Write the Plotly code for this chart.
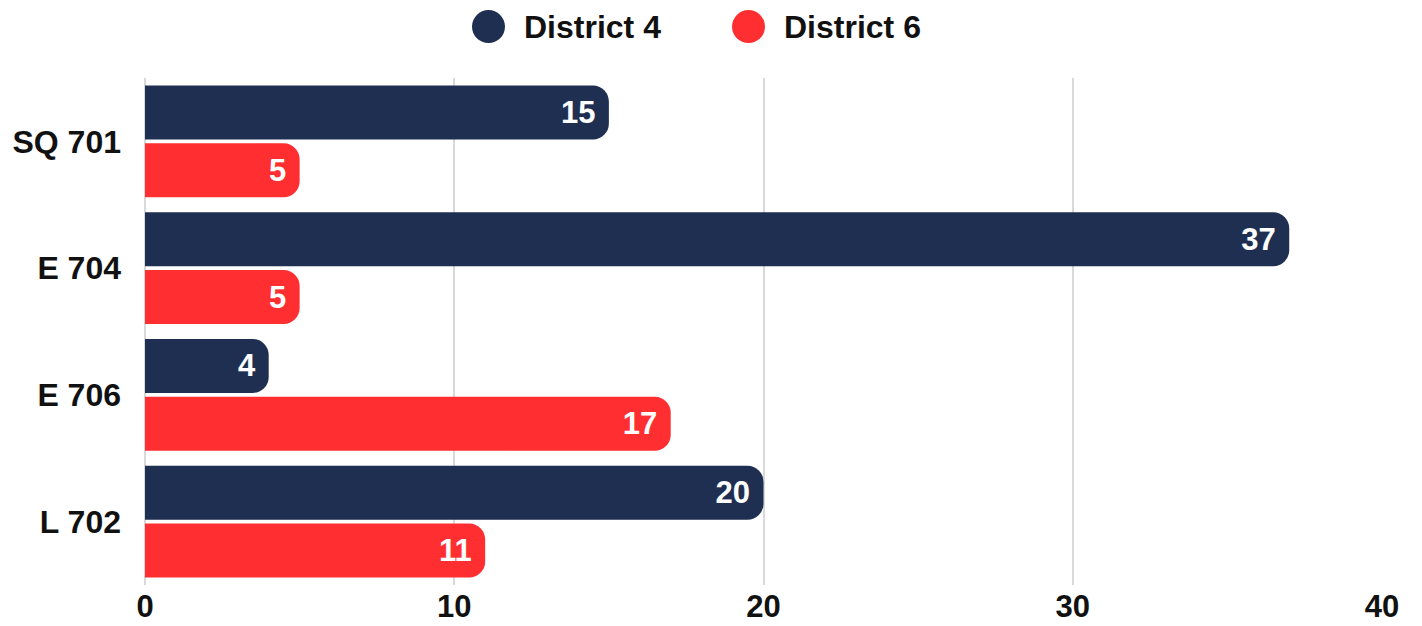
import plotly.graph_objects as go

categories = ["SQ 701", "E 704", "E 706", "L 702"]
district4 = [15, 37, 4, 20]
district6 = [5, 5, 17, 11]
series_names = ["District 4", "District 6"]
colors = ["#1f2f52", "#ff2e31"]
x_ticks = [0, 10, 20, 30, 40]

FONT = "Liberation Sans, Arial, sans-serif"
OFF = 8  # default page body margin

fig = go.Figure()
for name, vals, col in zip(series_names, [district4, district6], colors):
    fig.add_trace(go.Bar(
        name=name, y=categories, x=vals, orientation="h",
        marker=dict(color=col, cornerradius=16, line=dict(width=0)),
        text=vals, texttemplate="%{x}\u00a0", textposition="inside",
        insidetextanchor="end", cliponaxis=False,
        textfont=dict(family=FONT, size=31, color="white", weight=700),
        showlegend=False,
    ))

W, H = 1422 - OFF, 626 - OFF
L, R, T, B = 145 - OFF, 40, 77.5 - OFF, 626 - 585.5
pw, ph = W - L - R, H - T - B

def px_to_paper(px, py):
    # px, py are page pixel coordinates
    fx, fy = px - OFF, py - OFF
    return (fx - L) / pw, (H - B - fy) / ph

# manual legend (circle markers)
legend_centers = [(488.5, 26), (748.5, 26)]
for (cx, cy), name, col in zip(legend_centers, series_names, colors):
    xp, yp = px_to_paper(cx, cy)
    fig.add_shape(type="circle", xref="paper", yref="paper",
                  xsizemode="pixel", ysizemode="pixel",
                  xanchor=xp, yanchor=yp, x0=-16.5, x1=16.5, y0=-16.5, y1=16.5,
                  fillcolor=col, line=dict(width=0))
    tx, ty = px_to_paper(cx + 33, cy)
    fig.add_annotation(text=name, xref="paper", yref="paper", x=tx, y=ty,
                       xanchor="left", yanchor="middle", showarrow=False,
                       font=dict(family=FONT, size=32, color="#111111", weight=700))

fig.update_layout(
    width=W, height=H,
    margin=dict(l=L, r=R, t=T, b=B, pad=0, autoexpand=False),
    plot_bgcolor="white", paper_bgcolor="white",
    barmode="group", bargap=0.087, bargroupgap=0.069,
    xaxis=dict(range=[0, 40], tickvals=x_ticks, showgrid=True,
               gridcolor="#d9d9d9", gridwidth=1.5, zeroline=True,
               zerolinecolor="#d9d9d9", zerolinewidth=1.5, showline=False,
               ticklabelstandoff=0,
               tickfont=dict(family=FONT, size=31, color="#111111", weight=700)),
    yaxis=dict(autorange="reversed", showgrid=False, showline=False,
               ticklabelstandoff=23,
               tickfont=dict(family=FONT, size=32, color="#111111", weight=700)),
)

fig.write_html("out.html")
